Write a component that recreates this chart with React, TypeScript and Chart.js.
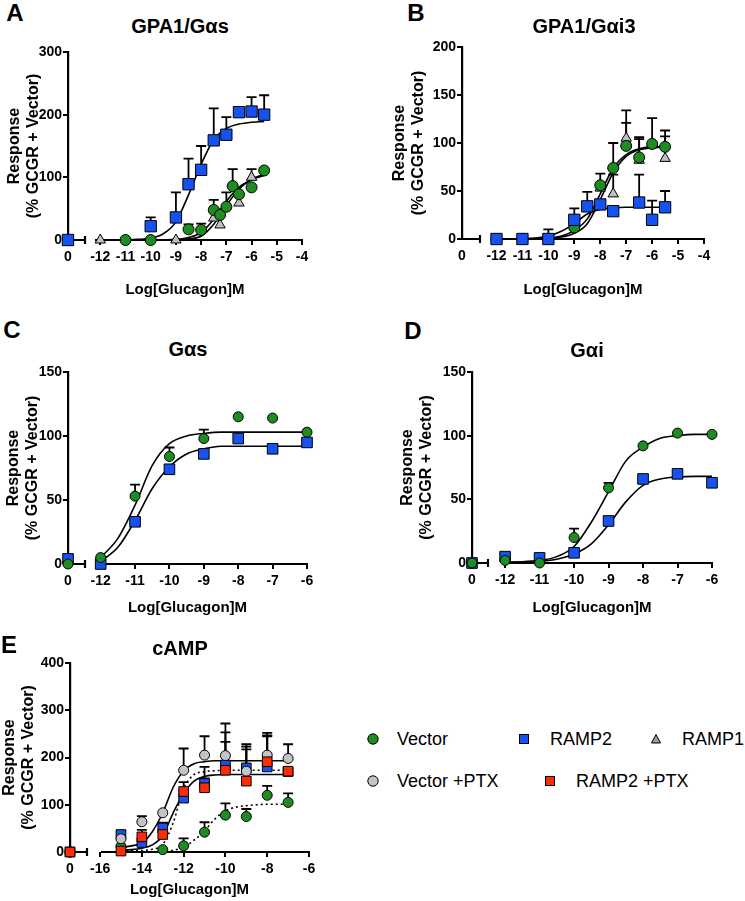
import React, { useEffect, useRef } from "react";
import { Chart, registerables } from "chart.js";
Chart.register(...registerables);

const FONT = "'Liberation Sans', Arial, Helvetica, sans-serif";
const BLUE = "#1652f2";
const GREEN = "#1f8c22";
const GREYC = "#c4c4c4";
const TRI = "#c0c0c0";
const RED = "#ff2b06";

// ---------- Panel A: GPA1/Gαs ----------
const A_ramp2_x = [0, -10, -9, -8.5, -8, -7.5, -7, -6.5, -6, -5.5];
const A_ramp2_y = [0, 22, 36, 89, 112, 159, 168, 204, 205, 200];
const A_ramp2_err = [0, 14, 40, 41, 38, 51, 28, 0, 23, 31];
const A_vector_x = [-11, -10, -8.5, -8, -7.5, -7.25, -7, -6.75, -6.5, -6, -5.5];
const A_vector_y = [0, 0, 17, 16, 48, 40, 53, 86, 73, 84, 111];
const A_vector_err = [0, 0, 8, 10, 16, 9, 23, 27, 0, 0, 0];
const A_ramp1_x = [-12, -9, -7.5, -7.25, -6.5, -6];
const A_ramp1_y = [0, 0, 35, 24, 59, 100];
const A_ramp1_err = [0, 0, 0, 0, 0, 13];
const A_fit_x = [-12, -11.5, -11, -10.5, -10, -9.5, -9, -8.5, -8, -7.5, -7, -6.5, -6, -5.5];
const A_fit_ramp2 = [0, 0, 0.3, 1, 3, 10, 29, 72, 121, 160, 178, 185, 188, 189];
const A_fit_vector = [0, 0, 0, 0, 0, 0.3, 1, 4, 12, 33, 62, 84, 96, 103];
const A_fit_ramp1 = [0, 0, 0, 0, 0, 0, 0.4, 2, 6, 25, 55, 81, 97, 105];

// ---------- Panel B: GPA1/Gαi3 ----------
const B_x = [-12, -11, -10, -9, -8.5, -8, -7.5, -6.5, -6, -5.5];
const B_ramp2_y = [0, 0, 0, 20, 34, 36, 29, 38, 20, 33];
const B_ramp2_err = [0, 0, 10, 12, 15, 0, 0, 29, 20, 17];
const B_vec_x = [-12, -11, -10, -9, -8, -7.5, -7, -6.5, -6, -5.5];
const B_vector_y = [0, 0, 0, 12, 56, 74, 97, 85, 99, 96];
const B_vector_err = [0, 0, 0, 0, 12, 26, 37, 21, 27, 17];
const B_ramp1_y = [0, 0, 0, 13, 53, 47, 105, 82, 98, 84];
const B_ramp1_err = [0, 0, 0, 0, 0, 20, 16, 22, 0, 23];
const B_fit_x = [-12, -11.5, -11, -10.5, -10, -9.5, -9, -8.5, -8, -7.5, -7, -6.5, -6, -5.5];
const B_fit_ramp2 = [0, 0, 0.5, 1, 3, 8, 16, 26, 31, 32.5, 33, 33, 33, 33];
const B_fit_vector = [0, 0, 0, 0.5, 1, 3, 9, 21, 47, 74, 88, 94, 96, 96];
const B_fit_ramp1 = [0, 0, 0, 0.3, 0.8, 2, 6, 16, 41, 69, 86, 93, 95, 96];

// ---------- Panel C: Gαs ----------
const C_x = [0, -12, -11, -10, -9, -8, -7, -6];
const C_vector_y = [0, 5, 53, 84, 98, 115, 114, 103];
const C_vector_err = [0, 0, 9, 7, 7, 0, 0, 0];
const C_ramp2_y = [4, 0, 33, 74, 86, 98, 90, 95];
const C_fit_x = [-12, -11.5, -11, -10.5, -10, -9.5, -9, -8.5, -8, -7, -6];
const C_fit_vector = [5, 20, 46, 77, 94, 100, 102, 103, 103, 103, 103];
const C_fit_ramp2 = [2, 13, 34, 59, 76, 86, 90, 92, 92, 92, 92];

// ---------- Panel D: Gαi ----------
const D_x = [0, -12, -11, -10, -9, -8, -7, -6];
const D_vector_y = [0, 2, 0, 20, 59, 92, 102, 101];
const D_vector_err = [0, 0, 0, 7, 4, 0, 0, 0];
const D_ramp2_y = [0, 5, 4, 8, 33, 66, 70, 63];
const D_fit_x = [-12, -11.5, -11, -10.5, -10, -9.5, -9, -8.5, -8, -7.5, -7, -6.5, -6];
const D_fit_vector = [0.5, 1, 2, 5, 13, 32, 56, 80, 91, 98, 100, 101, 101];
const D_fit_ramp2 = [0.5, 1, 1.5, 3, 7, 15, 30, 48, 61, 66, 67.5, 68, 68];

// ---------- Panel E: cAMP ----------
const E_x = [0, -15, -14, -13, -12, -11, -10, -9, -8, -7];
const E_vectorPTX_y = [0, 28, 64, 83, 173, 205, 204, 171, 205, 198];
const E_vectorPTX_err = [0, 0, 12, 0, 46, 40, 68, 57, 47, 30];
const E_ramp2PTX_y = [0, 2, 32, 37, 128, 136, 173, 150, 191, 171];
const E_ramp2PTX_err = [0, 0, 15, 24, 20, 20, 60, 67, 56, 0];
const E_ramp2_y = [0, 37, 20, 51, 114, 145, 184, 178, 180, 170];
const E_ramp2_err = [0, 7, 0, 11, 15, 35, 69, 45, 65, 0];
const E_vec_x = [0, -15, -13, -12, -11, -10, -9, -8, -7];
const E_vector_y = [0, 12, 5, 13, 42, 78, 75, 120, 105];
const E_vector_err = [0, 0, 0, 16, 21, 25, 16, 20, 19];
const E_fit_x = [-15, -14.5, -14, -13.5, -13, -12.5, -12, -11.5, -11, -10.5, -10, -9.5, -9, -8.5, -8, -7];
const E_fit_vectorPTX = [9, 13, 19, 43, 83, 137, 172, 187, 191, 193, 193, 193, 193, 193, 193, 193];
const E_fit_ramp2 = [4, 5, 8, 15, 35, 83, 124, 150, 160, 163, 164, 164, 164, 164, 164, 164];
const E_fit_ramp2PTX = [2, 2.5, 3, 6, 16, 62, 134, 164, 170, 172, 173, 173, 173, 173, 173, 173];
const E_fit_vector = [0, 0, 0, 0.3, 1, 4, 10, 25, 45, 70, 87, 95, 98, 100, 101, 101];

type Series = {
  x: number[]; y: number[]; err?: number[];
  style: string; color: string; r: number; order: number;
};
type Curve = { x: number[]; y: number[]; dash?: boolean };
type PanelCfg = {
  left: number; top: number; width: number; height: number;
  yWidth: number; xHeight: number; padTop: number; padRight: number;
  zero: number; xMax: number; xTicks: number[]; yMax: number; yStep: number;
  yTitlePad: number; xTitlePad: number; cap: number; start: number;
  series: Series[]; curves: Curve[];
};

const errorBars = {
  id: "errorBars",
  beforeDatasetsDraw(chart: any) {
    const { ctx } = chart;
    const xs = chart.scales.x;
    const ys = chart.scales.y;
    chart.data.datasets.forEach((ds: any) => {
      if (!ds.errors) return;
      ctx.save();
      ctx.strokeStyle = "#000";
      ctx.lineWidth = 1.8;
      ds.data.forEach((p: any, j: number) => {
        const e = ds.errors[j];
        if (!e) return;
        const px = xs.getPixelForValue(p.x);
        const py = ys.getPixelForValue(p.y);
        const pt = ys.getPixelForValue(p.y + e);
        ctx.beginPath();
        ctx.moveTo(px, py);
        ctx.lineTo(px, pt);
        ctx.moveTo(px - 5, pt);
        ctx.lineTo(px + 5, pt);
        ctx.stroke();
      });
      ctx.restore();
    });
  },
};

const brokenAxis = {
  id: "brokenAxis",
  beforeDatasetsDraw(chart: any, _args: any, opts: any) {
    const { ctx, chartArea } = chart;
    const { left, right, bottom } = chartArea;
    ctx.save();
    ctx.strokeStyle = "#000";
    ctx.lineWidth = 2.2;
    ctx.beginPath();
    ctx.moveTo(left - 1, bottom);
    ctx.lineTo(left + opts.cap, bottom);
    ctx.moveTo(left + opts.cap, bottom - 4);
    ctx.lineTo(left + opts.cap, bottom + 4);
    ctx.moveTo(left + opts.start, bottom);
    ctx.lineTo(right + 1, bottom);
    ctx.stroke();
    ctx.restore();
  },
};

function PanelChart({ cfg }: { cfg: PanelCfg }) {
  const ref = useRef<HTMLCanvasElement>(null);
  useEffect(() => {
    const zero = cfg.zero;
    const datasets: any[] = [];
    cfg.curves.forEach((c) =>
      datasets.push({
        type: "scatter",
        data: c.x.map((x, i) => ({ x, y: c.y[i] })),
        showLine: true,
        pointRadius: 0,
        borderColor: "#000",
        borderWidth: 1.6,
        borderDash: c.dash ? [2, 3] : [],
        cubicInterpolationMode: "monotone",
        order: 20,
        clip: false,
      })
    );
    cfg.series.forEach((s) =>
      datasets.push({
        type: "scatter",
        data: s.x.map((x, i) => ({ x: x === 0 ? zero : x, y: s.y[i] })),
        errors: s.err,
        pointStyle: s.style,
        pointRadius: s.r,
        backgroundColor: s.color,
        borderColor: "#000",
        borderWidth: 1,
        order: s.order,
        clip: false,
      })
    );
    const tickFont = { family: FONT, size: 14, weight: "bold" as const };
    const xTitleFont = { family: FONT, size: 15, weight: "bold" as const };
    const yTitleFont = { family: FONT, size: 16, weight: "bold" as const };
    const chart = new Chart(ref.current as HTMLCanvasElement, {
      type: "scatter",
      data: { datasets },
      options: {
        responsive: false,
        animation: false,
        devicePixelRatio: 1,
        events: [],
        layout: {
          autoPadding: false,
          padding: { top: cfg.padTop, right: cfg.padRight, left: 0, bottom: 0 },
        },
        plugins: {
          legend: { display: false },
          tooltip: { enabled: false },
          brokenAxis: { cap: cfg.cap, start: cfg.start },
        } as any,
        scales: {
          x: {
            type: "linear",
            min: zero,
            max: cfg.xMax,
            afterBuildTicks: (sc: any) => {
              sc.ticks = [zero, ...cfg.xTicks].map((v) => ({ value: v }));
            },
            afterFit: (sc: any) => {
              sc.height = cfg.xHeight;
            },
            ticks: {
              autoSkip: false,
              maxRotation: 0,
              padding: 4,
              color: "#000",
              font: tickFont,
              callback: (v: any) => (v === zero ? "0" : String(v)),
            },
            grid: {
              drawOnChartArea: false,
              drawTicks: true,
              tickLength: 5,
              lineWidth: 2,
              color: (c: any) =>
                c.tick && c.tick.value === zero ? "rgba(0,0,0,0)" : "#000",
            },
            border: { display: false },
            title: {
              display: true,
              text: "Log[Glucagon]M",
              color: "#000",
              font: xTitleFont,
              padding: { top: 0, bottom: cfg.xTitlePad },
            },
          },
          y: {
            type: "linear",
            min: 0,
            max: cfg.yMax,
            afterFit: (sc: any) => {
              sc.width = cfg.yWidth;
            },
            ticks: {
              stepSize: cfg.yStep,
              padding: 1,
              color: "#000",
              font: tickFont,
            },
            grid: {
              drawOnChartArea: false,
              drawTicks: true,
              tickLength: 5,
              lineWidth: 2,
              color: "#000",
            },
            border: { display: true, color: "#000", width: 2.2 },
            title: {
              display: true,
              text: ["Response", "(% GCGR + Vector)"],
              color: "#000",
              font: yTitleFont,
              padding: { top: cfg.yTitlePad, bottom: 0 },
            },
          },
        } as any,
      },
      plugins: [errorBars, brokenAxis],
    });
    return () => chart.destroy();
  }, []);
  return (
    <canvas
      ref={ref}
      width={cfg.width}
      height={cfg.height}
      style={{
        position: "absolute",
        left: cfg.left,
        top: cfg.top,
        width: cfg.width,
        height: cfg.height,
      }}
    />
  );
}

const panelA: PanelCfg = {
  left: 0, top: 40, width: 340, height: 265,
  yWidth: 68, xHeight: 65, padTop: 12, padRight: 38,
  zero: -13.28, xMax: -4, xTicks: [-12, -11, -10, -9, -8, -7, -6, -5, -4],
  yMax: 300, yStep: 100, yTitlePad: 5, xTitlePad: 6, cap: 17, start: 27,
  curves: [
    { x: A_fit_x, y: A_fit_ramp2 },
    { x: A_fit_x, y: A_fit_vector },
    { x: A_fit_x, y: A_fit_ramp1 },
  ],
  series: [
    { x: A_ramp1_x, y: A_ramp1_y, err: A_ramp1_err, style: "triangle", color: TRI, r: 6, order: 3 },
    { x: A_vector_x, y: A_vector_y, err: A_vector_err, style: "circle", color: GREEN, r: 5.5, order: 2 },
    { x: A_ramp2_x, y: A_ramp2_y, err: A_ramp2_err, style: "rect", color: BLUE, r: 8, order: 1 },
  ],
};

const panelB: PanelCfg = {
  left: 380, top: 35, width: 365, height: 270,
  yWidth: 82, xHeight: 66, padTop: 12, padRight: 41,
  zero: -13.33, xMax: -4, xTicks: [-12, -11, -10, -9, -8, -7, -6, -5, -4],
  yMax: 200, yStep: 50, yTitlePad: 10, xTitlePad: 6, cap: 18, start: 30,
  curves: [
    { x: B_fit_x, y: B_fit_ramp2 },
    { x: B_fit_x, y: B_fit_vector },
    { x: B_fit_x, y: B_fit_ramp1 },
  ],
  series: [
    { x: B_vec_x, y: B_ramp1_y, err: B_ramp1_err, style: "triangle", color: TRI, r: 6, order: 3 },
    { x: B_vec_x, y: B_vector_y, err: B_vector_err, style: "circle", color: GREEN, r: 5.5, order: 2 },
    { x: B_x, y: B_ramp2_y, err: B_ramp2_err, style: "rect", color: BLUE, r: 8, order: 1 },
  ],
};

const panelC: PanelCfg = {
  left: 0, top: 360, width: 340, height: 265,
  yWidth: 68, xHeight: 61, padTop: 12, padRight: 33,
  zero: -12.95, xMax: -6, xTicks: [-12, -11, -10, -9, -8, -7, -6],
  yMax: 150, yStep: 50, yTitlePad: 4, xTitlePad: 8, cap: 17, start: 28,
  curves: [
    { x: C_fit_x, y: C_fit_vector },
    { x: C_fit_x, y: C_fit_ramp2 },
  ],
  series: [
    { x: C_x, y: C_ramp2_y, style: "rect", color: BLUE, r: 7.5, order: 2 },
    { x: C_x, y: C_vector_y, err: C_vector_err, style: "circle", color: GREEN, r: 5, order: 1 },
  ],
};

const panelD: PanelCfg = {
  left: 385, top: 360, width: 360, height: 265,
  yWidth: 87, xHeight: 62, padTop: 12, padRight: 33,
  zero: -12.96, xMax: -6, xTicks: [-12, -11, -10, -9, -8, -7, -6],
  yMax: 150, yStep: 50, yTitlePad: 13, xTitlePad: 8, cap: 16, start: 30,
  curves: [
    { x: D_fit_x, y: D_fit_vector },
    { x: D_fit_x, y: D_fit_ramp2 },
  ],
  series: [
    { x: D_x, y: D_ramp2_y, style: "rect", color: BLUE, r: 7.5, order: 2 },
    { x: D_x, y: D_vector_y, err: D_vector_err, style: "circle", color: GREEN, r: 5, order: 1 },
  ],
};

const panelE: PanelCfg = {
  left: 0, top: 650, width: 340, height: 251,
  yWidth: 70, xHeight: 49, padTop: 13, padRight: 31,
  zero: -17.44, xMax: -6, xTicks: [-16, -14, -12, -10, -8, -6],
  yMax: 400, yStep: 100, yTitlePad: 0, xTitlePad: 2, cap: 17, start: 31,
  curves: [
    { x: E_fit_x, y: E_fit_vectorPTX },
    { x: E_fit_x, y: E_fit_ramp2 },
    { x: E_fit_x, y: E_fit_ramp2PTX, dash: true },
    { x: E_fit_x, y: E_fit_vector, dash: true },
  ],
  series: [
    { x: E_vec_x, y: E_vector_y, err: E_vector_err, style: "circle", color: GREEN, r: 5, order: 4 },
    { x: E_x, y: E_ramp2_y, err: E_ramp2_err, style: "rect", color: BLUE, r: 6.8, order: 3 },
    { x: E_x, y: E_vectorPTX_y, err: E_vectorPTX_err, style: "circle", color: GREYC, r: 5, order: 2 },
    { x: E_x, y: E_ramp2PTX_y, err: E_ramp2PTX_err, style: "rect", color: RED, r: 6.8, order: 1 },
  ],
};

function Label({ x, y, text, size, bold = true }: { x: number; y: number; text: string; size: number; bold?: boolean }) {
  return (
    <div
      style={{
        position: "absolute",
        left: x,
        top: y,
        transform: "translate(-50%, -50%)",
        fontFamily: FONT,
        fontSize: size,
        fontWeight: bold ? "bold" : "normal",
        lineHeight: 1,
        whiteSpace: "nowrap",
        color: "#000",
      }}
    >
      {text}
    </div>
  );
}

function LegendText({ x, y, text }: { x: number; y: number; text: string }) {
  return (
    <div
      style={{
        position: "absolute",
        left: x,
        top: y,
        transform: "translateY(-50%)",
        fontFamily: FONT,
        fontSize: 18,
        lineHeight: 1,
        whiteSpace: "nowrap",
        color: "#000",
      }}
    >
      {text}
    </div>
  );
}

function Marker({ x, y, kind, color }: { x: number; y: number; kind: string; color: string }) {
  const s = 14;
  let shape: any = null;
  if (kind === "circle") shape = <circle cx={7} cy={7} r={5.2} fill={color} stroke="#000" strokeWidth={1} />;
  else if (kind === "rect") shape = <rect x={2.5} y={2.5} width={9} height={9} fill={color} stroke="#000" strokeWidth={1} />;
  else shape = <polygon points="7,2.5 11.5,11 2.5,11" fill={color} stroke="#000" strokeWidth={1} />;
  return (
    <svg width={s} height={s} style={{ position: "absolute", left: x - 7, top: y - 7 }}>
      {shape}
    </svg>
  );
}

export default function App() {
  return (
    <div style={{ position: "absolute", left: 0, top: 0, width: 745, height: 901, background: "#fff", overflow: "hidden" }}>
      <PanelChart cfg={panelA} />
      <PanelChart cfg={panelB} />
      <PanelChart cfg={panelC} />
      <PanelChart cfg={panelD} />
      <PanelChart cfg={panelE} />

      <Label x={15} y={13} text="A" size={24} />
      <Label x={180} y={26} text="GPA1/Gαs" size={20} />
      <Label x={416} y={13} text="B" size={24} />
      <Label x={584} y={26} text="GPA1/Gαi3" size={20} />
      <Label x={12} y={330} text="C" size={24} />
      <Label x={188} y={349} text="Gαs" size={20} />
      <Label x={413} y={331} text="D" size={24} />
      <Label x={587} y={350} text="Gαi" size={20} />
      <Label x={9} y={645} text="E" size={24} />
      <Label x={180} y={648} text="cAMP" size={20} />

      <Marker x={373} y={739} kind="circle" color={GREEN} />
      <LegendText x={397} y={739} text="Vector" />
      <Marker x={524} y={739} kind="rect" color={BLUE} />
      <LegendText x={550} y={739} text="RAMP2" />
      <Marker x={656} y={739} kind="triangle" color="#9a9a9a" />
      <LegendText x={682} y={739} text="RAMP1" />
      <Marker x={373} y={781} kind="circle" color={GREYC} />
      <LegendText x={397} y={781} text="Vector +PTX" />
      <Marker x={550} y={781} kind="rect" color={RED} />
      <LegendText x={576} y={781} text="RAMP2 +PTX" />
    </div>
  );
}
